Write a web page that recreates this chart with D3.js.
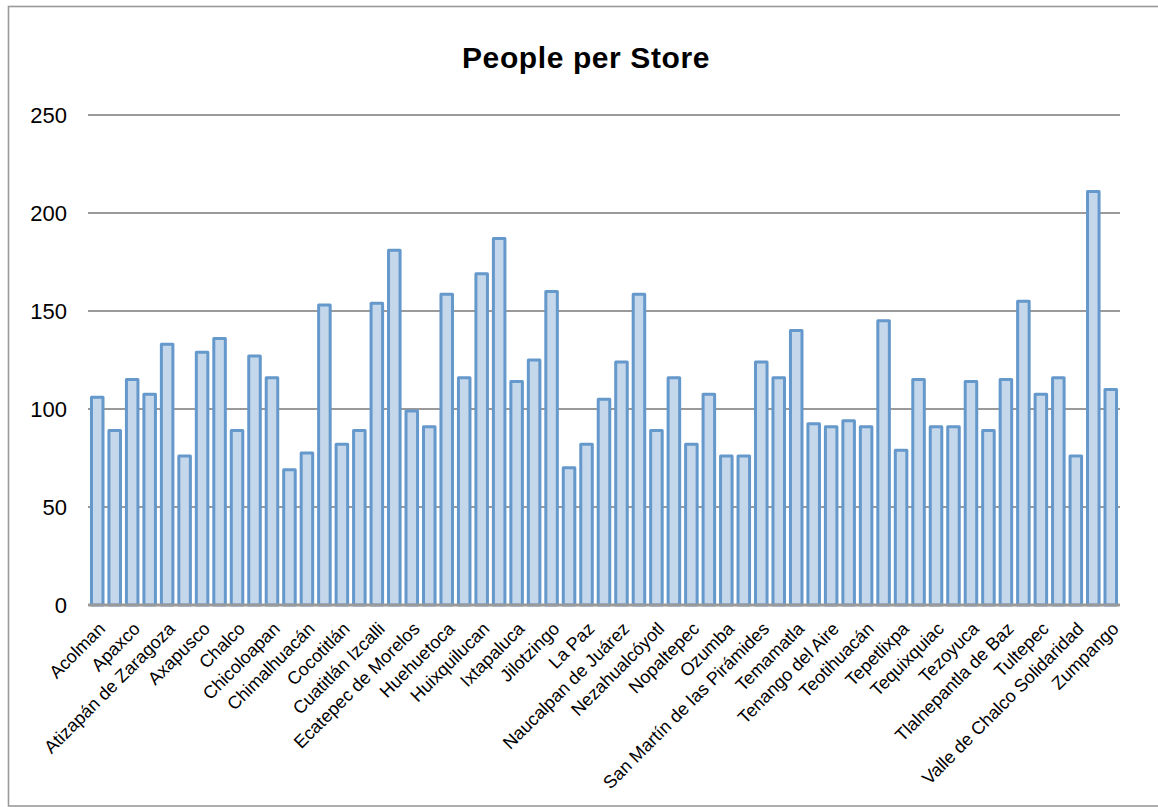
<!DOCTYPE html>
<html>
<head>
<meta charset="utf-8">
<script src="https://cdn.jsdelivr.net/npm/d3@7"></script>
<style>
  html, body { margin: 0; padding: 0; background: #fff; }
  svg { display: block; }
  text { font-family: "Liberation Sans", Arial, Helvetica, sans-serif; }
</style>
</head>
<body>
<svg id="chart" width="1158" height="807"></svg>
<script>
const chartTitle = "People per Store";

const municipalities = [
  "Acolman", "Amecameca", "Apaxco", "Atenco", "Atizapán de Zaragoza", "Atlautla",
  "Axapusco", "Ayapango", "Chalco", "Chiautla", "Chicoloapan", "Chiconcuac",
  "Chimalhuacán", "Coacalco de Berriozábal", "Cocotitlán", "Coyotepec",
  "Cuatitlán Izcalli", "Cuautitlán", "Ecatepec de Morelos", "Ecatzingo",
  "Huehuetoca", "Hueypoxtla", "Huixquilucan", "Isidro Fabela", "Ixtapaluca",
  "Jaltenco", "Jilotzingo", "Juchitepec", "La Paz", "Melchor Ocampo",
  "Naucalpan de Juárez", "Nextlalpan", "Nezahualcóyotl", "Nicolás Romero",
  "Nopaltepec", "Otumba", "Ozumba", "Papalotla", "San Martín de las Pirámides",
  "Tecámac", "Temamatla", "Temascalapa", "Tenango del Aire", "Teoloyucan",
  "Teotihuacán", "Tepetlaoxtoc", "Tepetlixpa", "Tepotzotlán", "Tequixquiac",
  "Texcoco", "Tezoyuca", "Tlalmanalco", "Tlalnepantla de Baz", "Tonanitla",
  "Tultepec", "Tultitlán", "Valle de Chalco Solidaridad", "Villa del Carbón",
  "Zumpango"
];

const peoplePerStore = [
  106, 89, 115, 107.5, 133, 76,
  129, 136, 89, 127, 116, 69,
  77.5, 153, 82, 89,
  154, 181, 99, 91,
  158.5, 116, 169, 187, 114,
  125, 160, 70, 82, 105,
  124, 158.5, 89, 116,
  82, 107.5, 76, 76, 124,
  116, 140, 92.5, 91, 94,
  91, 145, 79, 115, 91,
  91, 114, 89, 115, 155,
  107.5, 116, 76, 211,
  110
];

const yTicks = [0, 50, 100, 150, 200, 250];

const plot = { left: 88, right: 1120, top: 115, bottom: 605 };

const svg = d3.select("#chart");

// outer frame
svg.append("rect")
  .attr("x", 8.5).attr("y", 6.5)
  .attr("width", 1160).attr("height", 799.5)
  .attr("fill", "none").attr("stroke", "#9a9a9a").attr("stroke-width", 1.6);

const x = d3.scaleBand()
  .domain(municipalities)
  .range([plot.left + 0.5, plot.right - 0.5])
  .paddingInner(0.34)
  .paddingOuter(0.17);

const y = d3.scaleLinear().domain([0, 250]).range([plot.bottom, plot.top]);

// y axis labels
const yAxis = d3.axisLeft(y).tickValues(yTicks).tickSize(0).tickPadding(21);
const yg = svg.append("g").attr("transform", `translate(${plot.left},0)`).call(yAxis);
yg.select(".domain").remove();
yg.selectAll("text")
  .attr("font-size", 22).attr("fill", "#000")
  .style("font-family", "'Liberation Sans', Arial, sans-serif");

// gridlines
svg.append("g").selectAll("line")
  .data(yTicks.filter(d => d > 0))
  .join("line")
  .attr("x1", plot.left).attr("x2", plot.right)
  .attr("y1", d => y(d)).attr("y2", d => y(d))
  .attr("stroke", "#9a9a9a").attr("stroke-width", 2);

// bars
svg.append("g").selectAll("rect")
  .data(peoplePerStore)
  .join("rect")
  .attr("x", (d, i) => x(municipalities[i]))
  .attr("y", d => y(d))
  .attr("width", x.bandwidth())
  .attr("height", d => y(0) - y(d))
  .attr("fill", "#c5d7eb")
  .attr("stroke", "#6598cb")
  .attr("stroke-width", 3)
  .attr("stroke-linejoin", "round");

// zero axis line
svg.append("line")
  .attr("x1", plot.left).attr("x2", plot.right)
  .attr("y1", y(0)).attr("y2", y(0))
  .attr("stroke", "#9a9a9a").attr("stroke-width", 3);

// x labels (every other category)
svg.append("g").selectAll("text")
  .data(municipalities.filter((d, i) => i % 2 === 0))
  .join("text")
  .attr("transform", d => `translate(${x(d) + x.bandwidth() / 2 + 9},630) rotate(-45)`)
  .attr("text-anchor", "end")
  .attr("font-size", 18)
  .attr("fill", "#000")
  .text(d => d);

// title
svg.append("text")
  .attr("x", 586).attr("y", 68)
  .attr("text-anchor", "middle")
  .attr("font-size", 30)
  .attr("font-weight", "bold")
  .attr("letter-spacing", 0.6)
  .attr("fill", "#000")
  .text(chartTitle);
</script>
</body>
</html>
